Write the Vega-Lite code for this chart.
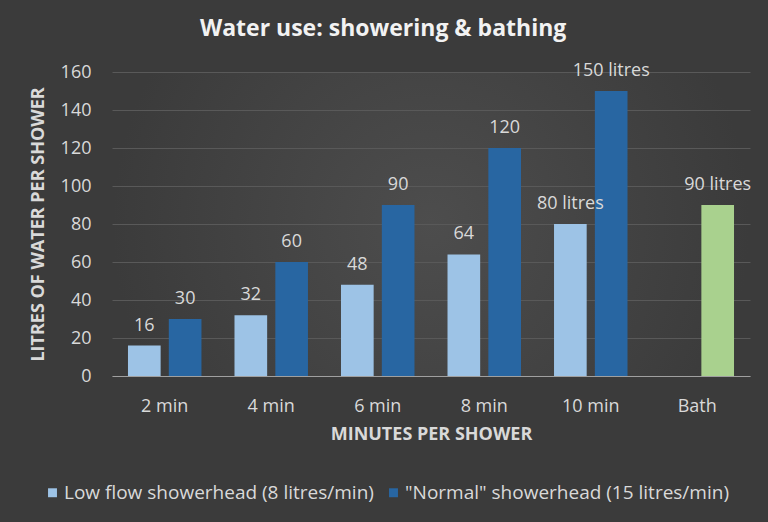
{
  "$schema": "https://vega.github.io/schema/vega-lite/v6.json",
  "width": 638,
  "height": 304,
  "autosize": "none",
  "padding": {"left": 112, "top": 72, "right": 18, "bottom": 146},
  "background": "#3b3b3b",
  "title": {
    "text": "Water use: showering & bathing",
    "fontSize": 23,
    "font": "Open Sans",
    "fontWeight": "bold",
    "color": "#f2f2f2",
    "offset": 21,
    "anchor": "middle",
    "frame": "bounds",
    "dx": -7
  },
  "config": {
    "font": "Open Sans",
    "view": {
      "stroke": null,
      "fill": {
        "gradient": "radial",
        "stops": [
          {"offset": 0, "color": "#4d4d4d"},
          {"offset": 1, "color": "#3b3b3b"}
        ]
      }
    }
  },
  "data": {
    "values": [
      {"cat": "2 min", "series": "Low flow showerhead (8 litres/min)", "slot": "a", "value": 16, "label": "16"},
      {"cat": "2 min", "series": "\"Normal\" showerhead (15 litres/min)", "slot": "b", "value": 30, "label": "30"},
      {"cat": "4 min", "series": "Low flow showerhead (8 litres/min)", "slot": "a", "value": 32, "label": "32"},
      {"cat": "4 min", "series": "\"Normal\" showerhead (15 litres/min)", "slot": "b", "value": 60, "label": "60"},
      {"cat": "6 min", "series": "Low flow showerhead (8 litres/min)", "slot": "a", "value": 48, "label": "48"},
      {"cat": "6 min", "series": "\"Normal\" showerhead (15 litres/min)", "slot": "b", "value": 90, "label": "90"},
      {"cat": "8 min", "series": "Low flow showerhead (8 litres/min)", "slot": "a", "value": 64, "label": "64"},
      {"cat": "8 min", "series": "\"Normal\" showerhead (15 litres/min)", "slot": "b", "value": 120, "label": "120"},
      {"cat": "10 min", "series": "Low flow showerhead (8 litres/min)", "slot": "a", "value": 80, "label": "80 litres"},
      {"cat": "10 min", "series": "\"Normal\" showerhead (15 litres/min)", "slot": "b", "value": 150, "label": "150 litres"},
      {"cat": "Bath", "series": "Bath", "slot": "b", "value": 90, "label": "90 litres"}
    ]
  },
  "encoding": {
    "x": {
      "field": "cat",
      "type": "nominal",
      "sort": ["2 min", "4 min", "6 min", "8 min", "10 min", "Bath"],
      "scale": {"paddingInner": 0.31, "paddingOuter": 0.15},
      "title": "MINUTES PER SHOWER",
      "axis": {
        "labelAngle": 0,
        "labelColor": "#d9d9d9",
        "labelFontSize": 18,
        "labelPadding": 21,
        "ticks": false,
        "domainColor": "#a0a0a0",
        "domainWidth": 1,
        "titleColor": "#d9d9d9",
        "titleFontSize": 18,
        "titleFontWeight": "bold",
        "titlePadding": 10
      }
    },
    "xOffset": {
      "field": "slot",
      "type": "nominal",
      "sort": ["a", "b"],
      "scale": {"domain": ["a", "b"], "paddingInner": 0.2, "paddingOuter": 0}
    },
    "y": {
      "field": "value",
      "type": "quantitative",
      "scale": {"domain": [0, 160]},
      "title": "LITRES OF WATER PER SHOWER",
      "axis": {
        "values": [0, 20, 40, 60, 80, 100, 120, 140, 160],
        "grid": true,
        "gridColor": "#595959",
        "domain": false,
        "ticks": false,
        "labelColor": "#d9d9d9",
        "labelFontSize": 18,
        "labelPadding": 21,
        "titleColor": "#d9d9d9",
        "titleFontSize": 18,
        "titleFontWeight": "bold",
        "titlePadding": 13
      }
    }
  },
  "layer": [
    {
      "mark": {"type": "bar"},
      "encoding": {
        "color": {
          "field": "series",
          "type": "nominal",
          "scale": {
            "domain": ["Low flow showerhead (8 litres/min)", "\"Normal\" showerhead (15 litres/min)", "Bath"],
            "range": ["#9dc3e6", "#2866a2", "#a9d18e"]
          },
          "legend": {
            "values": ["Low flow showerhead (8 litres/min)", "\"Normal\" showerhead (15 litres/min)"],
            "title": null,
            "orient": "none",
            "direction": "horizontal",
            "legendX": -69,
            "legendY": 411,
            "symbolType": "square",
            "symbolSize": 80,
            "symbolStrokeWidth": 0,
            "labelColor": "#d9d9d9",
            "labelFontSize": 19,
            "labelLimit": 400,
            "columnPadding": 10,
            "labelOffset": 2
          }
        }
      }
    },
    {
      "mark": {"type": "text", "color": "#d9d9d9", "fontSize": 18, "baseline": "alphabetic", "dy": -15, "align": "center"},
      "encoding": {
        "text": {"field": "label"}
      }
    }
  ]
}
